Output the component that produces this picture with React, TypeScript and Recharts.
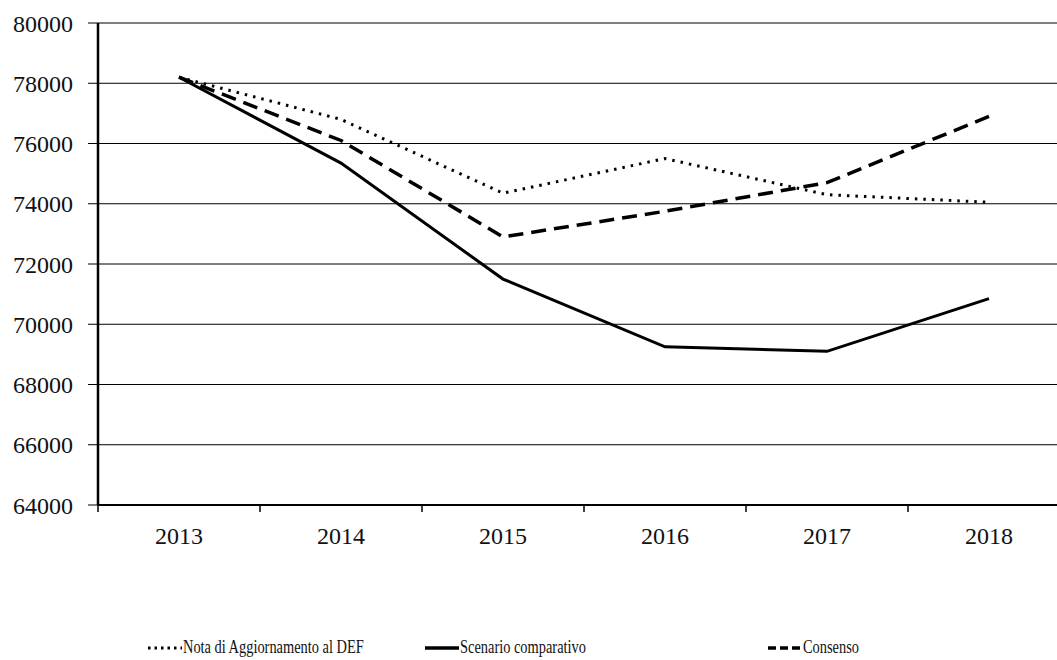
import React from 'react';
import { LineChart, Line, XAxis, YAxis, CartesianGrid } from 'recharts';

const years = ['2013', '2014', '2015', '2016', '2017', '2018'];
const notaDef = [78200, 76800, 74350, 75500, 74300, 74050];
const scenario = [78200, 75350, 71500, 69250, 69100, 70850];
const consenso = [78200, 76100, 72900, 73750, 74700, 76900];
const yTicks = [64000, 66000, 68000, 70000, 72000, 74000, 76000, 78000, 80000];

const data = years.map((year, i) => ({
    year,
    nota: notaDef[i],
    scenario: scenario[i],
    consenso: consenso[i]
}));

const FONT = '"Liberation Serif", "DejaVu Serif", serif';

// category labels at the centre, tick marks on the band edges
const YearTick = (props: any) => {
    const { x, y, payload, index } = props;
    const half = payload && payload.offset ? payload.offset : 81;
    return (
        <g>
            <line x1={x - half} x2={x - half} y1={y} y2={y + 7} stroke="#000" strokeWidth={1.5} />
            {index === years.length - 1 && (
                <line x1={x + half} x2={x + half} y1={y} y2={y + 7} stroke="#000" strokeWidth={1.5} />
            )}
            <text x={x} y={y + 31} textAnchor="middle" dominantBaseline="central"
                fontFamily={FONT} fontSize={24} fill="#111">
                {payload.value}
            </text>
        </g>
    );
};

const legendItems = [
    { label: 'Nota di Aggiornamento al DEF', dash: '2.5 4', width: 3, left: 148 },
    { label: 'Scenario comparativo', dash: undefined, width: 3.5, left: 425 },
    { label: 'Consenso', dash: '8 4', width: 3.5, left: 768 }
];

export default function App() {
    return (
        <div style={{ position: 'fixed', top: 0, left: 0, width: 1057, height: 660, overflow: 'hidden', background: '#fff' }}>
            <LineChart width={1070} height={570} data={data} margin={{ top: 23, right: 0, bottom: 0, left: 0 }}>
                <CartesianGrid horizontal vertical={false} stroke="#000" strokeWidth={1} />
                <XAxis
                    dataKey="year"
                    scale="band"
                    height={65}
                    axisLine={{ stroke: '#000', strokeWidth: 2 }}
                    tickLine={false}
                    tickSize={0}
                    tickMargin={0}
                    tick={<YearTick />}
                    interval={0}
                />
                <YAxis
                    width={98}
                    domain={[64000, 80000]}
                    ticks={yTicks}
                    interval={0}
                    axisLine={{ stroke: '#000', strokeWidth: 2.5 }}
                    tickLine={{ stroke: '#000', strokeWidth: 1 }}
                    tickSize={10}
                    tickMargin={15}
                    tick={{ fill: '#111', fontSize: 24, fontFamily: FONT }}
                />
                <Line type="linear" dataKey="nota" stroke="#000" strokeWidth={3} strokeDasharray="2.5 6" dot={false} isAnimationActive={false} />
                <Line type="linear" dataKey="scenario" stroke="#000" strokeWidth={3} dot={false} isAnimationActive={false} />
                <Line type="linear" dataKey="consenso" stroke="#000" strokeWidth={3.5} strokeDasharray="15 8" dot={false} isAnimationActive={false} />
            </LineChart>

            {/* legend row under the plot */}
            {legendItems.map((item) => (
                <div key={item.label} style={{ position: 'absolute', top: 637, left: item.left, display: 'flex', alignItems: 'center' }}>
                    <svg width={34} height={10}>
                        <line x1={0} x2={34} y1={5} y2={5} stroke="#000" strokeWidth={item.width} strokeDasharray={item.dash} />
                    </svg>
                    <span style={{ fontFamily: FONT, fontSize: 18, color: '#111', marginLeft: 1, display: 'inline-block', transform: 'scaleX(0.8)', transformOrigin: 'left center', whiteSpace: 'nowrap' }}>
                        {item.label}
                    </span>
                </div>
            ))}
        </div>
    );
}
